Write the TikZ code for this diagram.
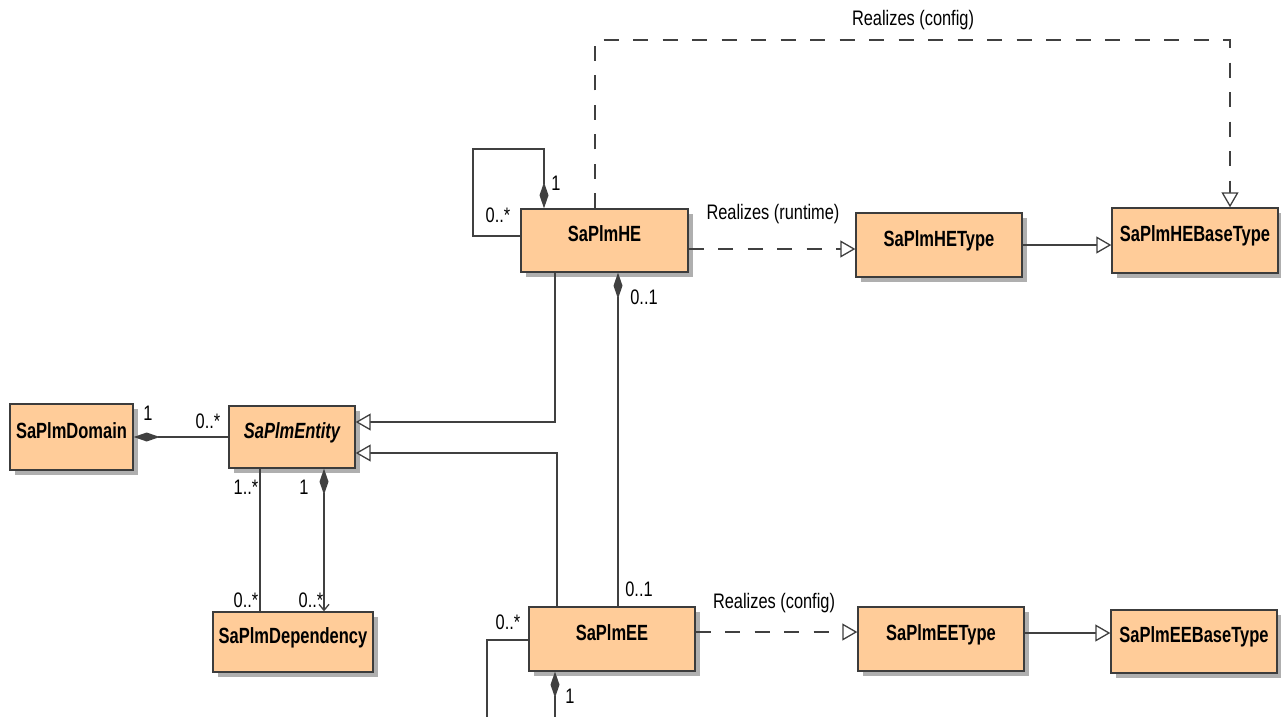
\documentclass[tikz,border=0pt]{standalone}
\usepackage{fontspec}
\newfontfamily\umlfont{Liberation Sans}[FakeStretch=0.75]
\newfontfamily\lblfont{Liberation Sans}[FakeStretch=0.78]
\usetikzlibrary{arrows.meta,shadows}
\definecolor{boxfill}{RGB}{255,204,153}
\definecolor{boxline}{RGB}{60,60,60}
\definecolor{linegray}{RGB}{64,64,64}
\definecolor{shadowgray}{RGB}{175,175,175}
\tikzset{
  cls/.style={draw=boxline, line width=1.4pt, fill=boxfill,
    drop shadow={shadow xshift=5pt, shadow yshift=-5pt, fill=shadowgray, opacity=1},
    inner sep=0pt, text height=16pt, text depth=14pt,
    font=\umlfont\bfseries\fontsize{22}{24}\selectfont},
  lbl/.style={inner sep=0pt, font=\lblfont\fontsize{21}{23}\selectfont},
  conn/.style={draw=linegray, line width=1.3pt},
  comp/.style={conn, arrows={Diamond[length=26pt,width=9pt,fill=linegray]}-},
  gen/.style={conn, arrows=-{Triangle[open,length=15pt,width=17pt,fill=white]}},
  real/.style={gen, dash pattern=on 15pt off 14.5pt},
  nav/.style={conn, arrows={Diamond[length=26pt,width=9pt,fill=linegray]}-{Straight Barb[length=6pt,width=10pt]}}
}
\begin{document}
\begin{tikzpicture}[x=1pt,y=-1pt]
\fill[white] (0,0) rectangle (1281,717);
\useasboundingbox (0,0) rectangle (1281,717);

% classes
\node[cls, minimum width=167pt, minimum height=63pt] (he) at (604.5,240.5) {SaPlmHE};
\node[cls, minimum width=166pt, minimum height=64pt] (hetype) at (939,245) {SaPlmHEType};
\node[cls, minimum width=166pt, minimum height=65pt] (hebase) at (1195,240.5) {SaPlmHEBaseType};
\node[cls, minimum width=123pt, minimum height=66pt] (domain) at (71.5,437) {SaPlmDomain};
\node[cls, minimum width=126pt, minimum height=62pt] (entity) at (292,437) {\itshape SaPlmEntity};
\node[cls, minimum width=160pt, minimum height=60pt] (dep) at (293,642) {SaPlmDependency};
\node[cls, minimum width=166pt, minimum height=64pt] (ee) at (612,639) {SaPlmEE};
\node[cls, minimum width=166pt, minimum height=64pt] (eetype) at (941,639) {SaPlmEEType};
\node[cls, minimum width=166pt, minimum height=63pt] (eebase) at (1194,641.5) {SaPlmEEBaseType};

% free ends at the lower border
\coordinate (eeleftend) at (487,717);
\coordinate (eebottomend) at (555,717);

% hardware element: self composition
\draw[comp] (he.north -| 544,0) -- (544,149) -- (473,149) -- (473,236) -- (he.west |- 0,236);
\node[lbl] (l1) at (556,183) {1};
\node[lbl] (l2) at (498,215) {0..*};

% realizations
\draw[real] (he.east |- 0,249) -- (hetype.west |- 0,249);
\node[lbl] (l3) at (773,214) {Realizes (runtime)};
\draw[gen] (hetype.east |- 0,245) -- (hebase.west |- 0,245);
\draw[real] (he.north -| 595,0) -- (595,40) -- (1230,40) -- (hebase.north -| 1230,0);
\node[lbl] (l4) at (913,20) {Realizes (config)};

\draw[real] (ee.east |- 0,632) -- (eetype.west |- 0,632);
\node[lbl] (l5) at (774,603) {Realizes (config)};
\draw[gen] (eetype.east |- 0,633) -- (eebase.west |- 0,633);

% generalizations to the entity
\draw[gen] (he.south -| 555,0) -- (555,422) -- (entity.east |- 0,422);
\draw[gen] (ee.north -| 557,0) -- (557,453) -- (entity.east |- 0,453);

% HE owns EE
\draw[comp] (he.south -| 618,0) -- (ee.north -| 618,0);
\node[lbl] (l6) at (644,297) {0..1};
\node[lbl] (l7) at (639,589) {0..1};

% domain and entity
\draw[comp] (domain.east |- 0,437) -- (entity.west |- 0,437);
\node[lbl] (l8) at (148,413) {1};
\node[lbl] (l9) at (208,421) {0..*};

% entity and dependency
\draw[conn] (entity.south -| 260,0) -- (dep.north -| 260,0);
\node[lbl] (l10) at (246,487) {1..*};
\node[lbl] (l11) at (246,600) {0..*};
\draw[nav] (entity.south -| 324,0) -- (dep.north -| 324,0);
\node[lbl] (l12) at (304,487) {1};
\node[lbl] (l13) at (311,600) {0..*};

% execution element ends running off the bottom
\draw[conn] (ee.west |- 0,640) -- (487,640) -- (eeleftend);
\node[lbl] (l14) at (508,622) {0..*};
\draw[comp] (ee.south -| 555,0) -- (eebottomend);
\node[lbl] (l15) at (570,696) {1};
\end{tikzpicture}
\end{document}
